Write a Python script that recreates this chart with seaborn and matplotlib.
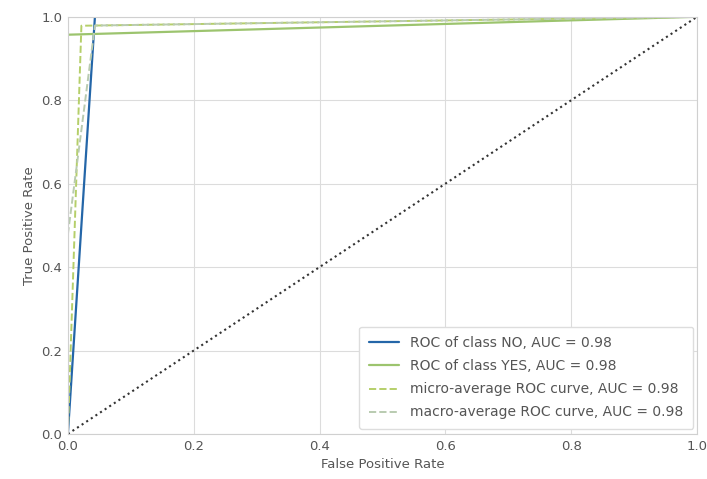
import matplotlib
matplotlib.use('Agg')
import matplotlib.pyplot as plt
import seaborn as sns

# ROC curve points
fpr_no = [0.0, 0.043, 1.0]
tpr_no = [0.0, 1.0, 1.0]
fpr_yes = [0.0, 0.0, 1.0]
tpr_yes = [0.0, 0.957, 1.0]
fpr_micro = [0.0, 0.0215, 1.0]
tpr_micro = [0.0, 0.9785, 1.0]
fpr_macro = [0.0, 0.043, 1.0]
tpr_macro = [0.4785, 0.979, 1.0]

labels = ['ROC of class NO, AUC = 0.98',
          'ROC of class YES, AUC = 0.98',
          'micro-average ROC curve, AUC = 0.98',
          'macro-average ROC curve, AUC = 0.98']
ticks = [0.0, 0.2, 0.4, 0.6, 0.8, 1.0]

sns.set_style('whitegrid', {'grid.color': '#dcdcdc', 'axes.edgecolor': '#d0d0d0'})
plt.rcParams['font.family'] = ['DejaVu Sans']

fig = plt.figure(figsize=(7.07, 4.79), dpi=100)
ax = fig.add_axes([0.096, 0.094, 0.89, 0.871])

sns.lineplot(x=fpr_no, y=tpr_no, sort=False, estimator=None, color='#2466a8',
             linewidth=1.6, label=labels[0], ax=ax)
sns.lineplot(x=fpr_yes, y=tpr_yes, sort=False, estimator=None, color='#9cc46e',
             linewidth=1.6, label=labels[1], ax=ax)
sns.lineplot(x=fpr_micro, y=tpr_micro, sort=False, estimator=None, color='#b5cf6a',
             linewidth=1.4, linestyle='--', label=labels[2], ax=ax)
sns.lineplot(x=fpr_macro, y=tpr_macro, sort=False, estimator=None, color='#b9cbb0',
             linewidth=1.4, linestyle='--', label=labels[3], ax=ax)
ax.plot([0, 1], [0, 1], linestyle=':', color='#333333', linewidth=1.5)

ax.set_xlim(0, 1)
ax.set_ylim(0, 1)
ax.set_xticks(ticks)
ax.set_yticks(ticks)
ax.tick_params(labelsize=9.5, colors='#555555', length=0, pad=4)
ax.set_xlabel('False Positive Rate', fontsize=9.5, color='#555555')
ax.set_ylabel('True Positive Rate', fontsize=9.5, color='#555555')

leg = ax.legend(loc='lower right', fontsize=10, frameon=True, framealpha=1,
                edgecolor='#dddddd', handlelength=2.2, labelspacing=0.65,
                borderpad=0.7, bbox_to_anchor=(1.005, -0.005))
for t in leg.get_texts():
    t.set_color('#555555')

fig.savefig('out.png', dpi=100)
